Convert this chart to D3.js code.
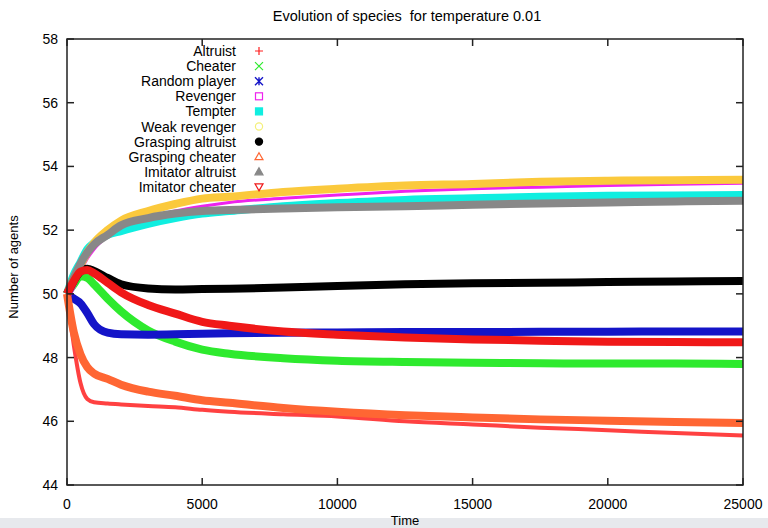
<!DOCTYPE html>
<html>
<head>
<meta charset="utf-8">
<script src="https://cdn.jsdelivr.net/npm/d3@7"></script>
<style>
  body { margin: 0; background: #fff; }
  text { font-family: "Liberation Sans", Arial, sans-serif; }
</style>
</head>
<body>
<div id="chart"></div>
<script>
var times = [0, 250, 500, 750, 1000, 1500, 2000, 3000, 4000, 5000, 6000, 8000, 10000, 12500, 15000, 17500, 20000, 22500, 25000];

var altruist         = [50, 48.4, 47.2, 46.7, 46.6, 46.56, 46.53, 46.48, 46.44, 46.36, 46.3, 46.22, 46.15, 46.0, 45.9, 45.8, 45.72, 45.63, 45.55];
var cheater          = [50, 50.3, 50.55, 50.5, 50.3, 49.85, 49.45, 48.85, 48.5, 48.25, 48.12, 47.98, 47.9, 47.86, 47.84, 47.82, 47.81, 47.81, 47.8];
var random_player    = [50, 49.85, 49.7, 49.4, 49.05, 48.78, 48.73, 48.72, 48.73, 48.75, 48.76, 48.78, 48.79, 48.8, 48.8, 48.81, 48.81, 48.82, 48.82];
var revenger         = [49.8, 50.2, 50.7, 51.1, 51.4, 51.8, 52.08, 52.4, 52.6, 52.75, 52.87, 53.0, 53.1, 53.22, 53.3, 53.35, 53.4, 53.44, 53.47];
var tempter          = [50, 50.6, 51.0, 51.4, 51.6, 51.85, 51.97, 52.2, 52.38, 52.52, 52.6, 52.75, 52.85, 52.95, 53.0, 53.05, 53.08, 53.09, 53.1];
var weak_revenger    = [50, 50.5, 50.9, 51.3, 51.6, 52.0, 52.3, 52.6, 52.82, 52.99, 53.05, 53.2, 53.3, 53.4, 53.45, 53.52, 53.55, 53.57, 53.58];
var grasp_altruist   = [50, 50.4, 50.7, 50.79, 50.72, 50.5, 50.3, 50.17, 50.14, 50.15, 50.16, 50.2, 50.25, 50.3, 50.33, 50.35, 50.37, 50.39, 50.4];
var grasp_cheater    = [50, 48.8, 48.1, 47.7, 47.5, 47.33, 47.15, 46.93, 46.8, 46.66, 46.58, 46.42, 46.3, 46.19, 46.12, 46.06, 46.02, 45.98, 45.95];
var imit_altruist    = [50, 50.5, 50.95, 51.3, 51.55, 51.85, 52.15, 52.38, 52.52, 52.6, 52.63, 52.68, 52.72, 52.75, 52.8, 52.84, 52.87, 52.9, 52.92];
var imit_cheater     = [50, 50.4, 50.7, 50.75, 50.65, 50.35, 50.05, 49.65, 49.38, 49.12, 49.0, 48.82, 48.72, 48.63, 48.57, 48.53, 48.5, 48.49, 48.48];

var names = ["Altruist", "Cheater", "Random player", "Revenger", "Tempter", "Weak revenger",
             "Grasping altruist", "Grasping cheater", "Imitator altruist", "Imitator cheater"];
var values = [altruist, cheater, random_player, revenger, tempter, weak_revenger,
              grasp_altruist, grasp_cheater, imit_altruist, imit_cheater];
var colors = ["#ff2020", "#2eea2e", "#1414c8", "#ee22ee", "#10eee0", "#fbc93c",
              "#000000", "#ff6633", "#888888", "#f01818"];
var widths = [4, 8, 8, 3, 8, 8, 8, 8, 8, 8];
var markers = ["plus", "cross", "star", "square", "fsquare", "circle", "fcircle", "triangle", "ftriangle", "itriangle"];

var x_ticks = [0, 5000, 10000, 15000, 20000, 25000];
var y_ticks = [44, 46, 48, 50, 52, 54, 56, 58];

var width = 768, height = 528;
var margin = { left: 67, right: 25, top: 39, bottom: 43 };

var svg = d3.select("#chart").append("svg")
    .attr("width", width)
    .attr("height", height);

var x = d3.scaleLinear().domain([0, 25000]).range([margin.left, width - margin.right]);
var y = d3.scaleLinear().domain([44, 58]).range([height - margin.bottom, margin.top]);

// curves
var line = d3.line()
    .x(function(d) { return x(d.t); })
    .y(function(d) { return y(d.v); })
    .curve(d3.curveMonotoneX);

values.forEach(function(vals, i) {
    var pts = times.map(function(t, j) { return { t: t, v: vals[j] }; });
    svg.append("path")
       .datum(pts)
       .attr("d", line)
       .style("fill", "none")
       .style("stroke", colors[i])
       .style("stroke-width", widths[i])
       .style("stroke-linejoin", "round")
       .style("opacity", i == 0 ? 0.85 : 1);
});

// frame and ticks
var tl = 7;
var axes = svg.append("g").style("stroke", "#222").style("stroke-width", 1.5);
axes.append("rect")
    .attr("x", x(0)).attr("y", y(58))
    .attr("width", x(25000) - x(0)).attr("height", y(44) - y(58))
    .style("fill", "none");

x_ticks.forEach(function(t) {
    axes.append("line").attr("x1", x(t)).attr("x2", x(t)).attr("y1", y(44)).attr("y2", y(44) - tl);
    axes.append("line").attr("x1", x(t)).attr("x2", x(t)).attr("y1", y(58)).attr("y2", y(58) + tl);
    svg.append("text").attr("x", x(t)).attr("y", y(44) + 24)
       .attr("text-anchor", "middle").style("font-size", "14px").text(t);
});
y_ticks.forEach(function(v) {
    axes.append("line").attr("x1", x(0)).attr("x2", x(0) + tl).attr("y1", y(v)).attr("y2", y(v));
    axes.append("line").attr("x1", x(25000)).attr("x2", x(25000) - tl).attr("y1", y(v)).attr("y2", y(v));
    svg.append("text").attr("x", x(0) - 9).attr("y", y(v) + 5)
       .attr("text-anchor", "end").style("font-size", "14px").text(v);
});

// titles
svg.append("text").attr("x", 407).attr("y", 21).attr("text-anchor", "middle")
   .style("font-size", "14.5px").style("white-space", "pre")
   .text("Evolution of species  for temperature 0.01");
svg.append("text").attr("transform", "translate(18,267) rotate(-90)")
   .attr("text-anchor", "middle").style("font-size", "13px").text("Number of agents");

// legend
function drawMarker(g, kind, cx, cy, col) {
    var s = 4;
    if (kind == "plus") {
        g.append("path").attr("d", "M" + (cx - s) + "," + cy + "H" + (cx + s) + "M" + cx + "," + (cy - s) + "V" + (cy + s))
         .style("stroke", col).style("stroke-width", 1.2);
    } else if (kind == "cross") {
        g.append("path").attr("d", "M" + (cx - s) + "," + (cy - s) + "L" + (cx + s) + "," + (cy + s) + "M" + (cx - s) + "," + (cy + s) + "L" + (cx + s) + "," + (cy - s))
         .style("stroke", col).style("stroke-width", 1.2);
    } else if (kind == "star") {
        g.append("path").attr("d", "M" + (cx - s) + "," + (cy - s) + "L" + (cx + s) + "," + (cy + s) + "M" + (cx - s) + "," + (cy + s) + "L" + (cx + s) + "," + (cy - s) + "M" + cx + "," + (cy - s) + "V" + (cy + s))
         .style("stroke", col).style("stroke-width", 1.4);
    } else if (kind == "square" || kind == "fsquare") {
        g.append("rect").attr("x", cx - 3.5).attr("y", cy - 3.5).attr("width", 7).attr("height", 7)
         .style("fill", kind == "fsquare" ? col : "none").style("stroke", col).style("stroke-width", 1.2);
    } else if (kind == "circle" || kind == "fcircle") {
        g.append("circle").attr("cx", cx).attr("cy", cy).attr("r", 3.6)
         .style("fill", kind == "fcircle" ? col : "none").style("stroke", col).style("stroke-width", 1.2);
    } else {
        var up = kind != "itriangle";
        var d = up ? "M" + cx + "," + (cy - 4) + "L" + (cx + 4) + "," + (cy + 3) + "L" + (cx - 4) + "," + (cy + 3) + "Z"
                   : "M" + cx + "," + (cy + 4) + "L" + (cx + 4) + "," + (cy - 3) + "L" + (cx - 4) + "," + (cy - 3) + "Z";
        g.append("path").attr("d", d)
         .style("fill", kind == "ftriangle" ? col : "none").style("stroke", col).style("stroke-width", 1.2);
    }
}

var legend = svg.append("g");
names.forEach(function(n, i) {
    var ly = 51 + i * 15.1;
    legend.append("text").attr("x", 236).attr("y", ly + 5).attr("text-anchor", "end")
          .style("font-size", "14px").text(n);
    drawMarker(legend, markers[i], 259, ly, i == 5 ? "#f4f07a" : colors[i]);
});

// bottom band of the screenshot
svg.append("rect").attr("x", 0).attr("y", 518).attr("width", width).attr("height", 10).style("fill", "#e7e9ed");
svg.append("text").attr("x", 405).attr("y", 525).attr("text-anchor", "middle")
   .style("font-size", "13px").text("Time");
</script>
</body>
</html>
